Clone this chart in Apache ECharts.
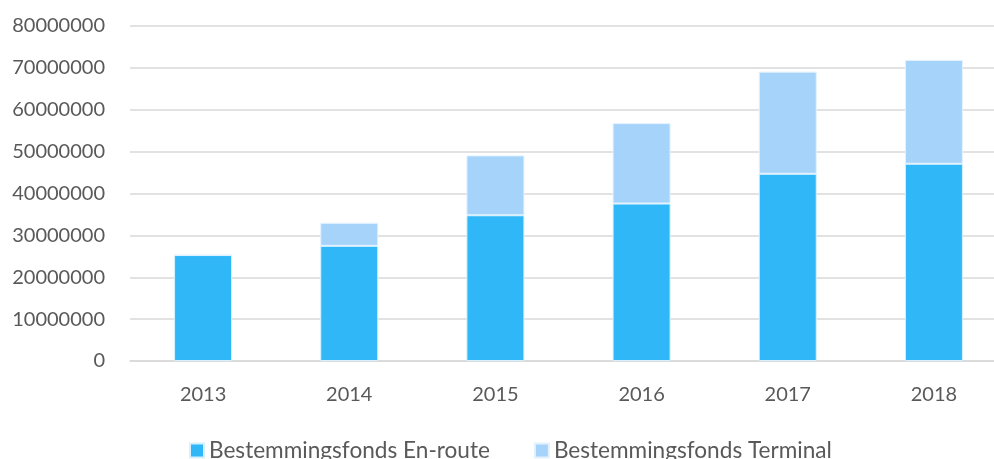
<!DOCTYPE html>
<html>
<head>
<meta charset="utf-8">
<script src="https://cdn.jsdelivr.net/npm/echarts@6/dist/echarts.min.js"></script>
<style>
  html, body { margin: 0; padding: 0; background: #fff; overflow: hidden; }
  #chart { width: 994px; height: 459px; }
</style>
</head>
<body>
<div id="chart"></div>
<script>
// waarden
const years = ["2013", "2014", "2015", "2016", "2017", "2018"];
const enRoute = [25300000, 27500000, 34800000, 37600000, 44700000, 47100000];
const terminal = [0, 5500000, 14300000, 19200000, 24400000, 24800000];

const textColor = "#595959";
const fontFamily = "Lato, 'Noto Sans', sans-serif";

const chart = echarts.init(document.getElementById("chart"), null, { renderer: "canvas" });

chart.setOption({
  animation: false,
  backgroundColor: "#fff",
  textStyle: { fontFamily: fontFamily, color: textColor },
  // plot loopt rechts buiten beeld door, net als in het origineel
  grid: { left: 130, right: -13, top: 26, bottom: 98, outerBoundsMode: "none" },
  legend: {
    left: 189,
    top: 439,
    padding: 0,
    itemWidth: 14,
    itemHeight: 14,
    itemGap: 44,
    icon: "rect",
    textStyle: { fontFamily: fontFamily, fontSize: 22.6, color: textColor },
    data: ["Bestemmingsfonds En-route", "Bestemmingsfonds Terminal"],
  },
  xAxis: {
    type: "category",
    data: years,
    axisLine: { lineStyle: { color: "#d9d9d9", width: 1.5 } },
    axisTick: { show: false },
    axisLabel: { fontSize: 20, color: textColor, fontFamily: fontFamily, margin: 24 },
  },
  yAxis: {
    type: "value",
    min: 0,
    max: 80000000,
    interval: 10000000,
    axisLine: { show: false },
    axisTick: { show: false },
    splitLine: { lineStyle: { color: "#d9d9d9", width: 1.5 } },
    axisLabel: {
      fontSize: 20,
      color: textColor,
      fontFamily: fontFamily,
      margin: 25,
      formatter: (v) => String(v),
    },
  },
  series: [
    {
      name: "Bestemmingsfonds En-route",
      type: "bar",
      stack: "fonds",
      barWidth: 58,
      data: enRoute,
      itemStyle: { color: "#2FB7F8", borderColor: "#d6f0fd", borderWidth: 1 },
    },
    {
      name: "Bestemmingsfonds Terminal",
      type: "bar",
      stack: "fonds",
      barWidth: 58,
      data: terminal,
      itemStyle: { color: "#A5D3FA", borderColor: "#e4f2fe", borderWidth: 1 },
    },
  ],
});
</script>
</body>
</html>
